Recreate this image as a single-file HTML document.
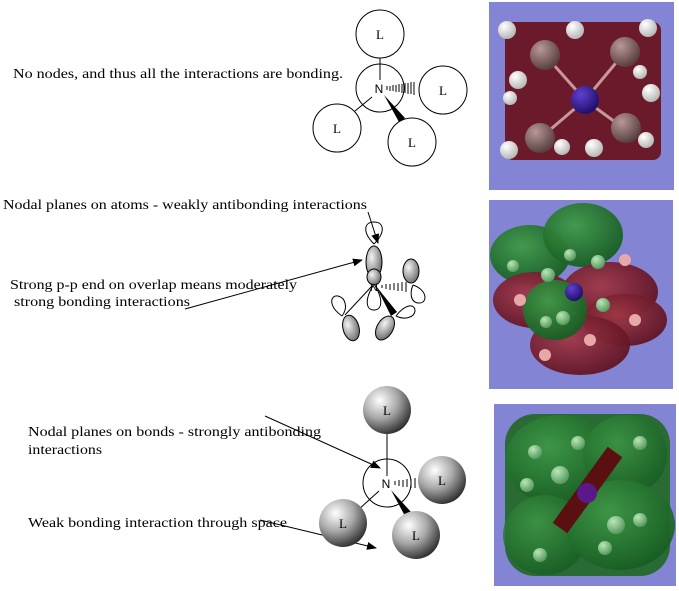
<!DOCTYPE html>
<html><head><meta charset="utf-8"><style>
html,body{margin:0;padding:0;background:#fff;}
svg{display:block;font-family:"Liberation Serif",serif;}
</style></head><body>
<svg width="679" height="591" viewBox="0 0 679 591" xmlns="http://www.w3.org/2000/svg">
<defs>
<radialGradient id="ball" cx="0.35" cy="0.3" r="0.75">
<stop offset="0" stop-color="#ffffff"/><stop offset="0.5" stop-color="#a8a8a8"/><stop offset="1" stop-color="#2a2a2a"/>
</radialGradient>
<radialGradient id="lobe" cx="0.35" cy="0.35" r="0.8">
<stop offset="0" stop-color="#f4f4f4"/><stop offset="1" stop-color="#5a5a5a"/>
</radialGradient>
<radialGradient id="red" cx="0.4" cy="0.4" r="0.7"><stop offset="0" stop-color="#a03848"/><stop offset="1" stop-color="#5a1020"/></radialGradient>
<radialGradient id="grn" cx="0.4" cy="0.35" r="0.7"><stop offset="0" stop-color="#3f9a48"/><stop offset="1" stop-color="#155a20"/></radialGradient>
<radialGradient id="hball" cx="0.35" cy="0.3" r="0.7"><stop offset="0" stop-color="#fff"/><stop offset="1" stop-color="#b8b8b8"/></radialGradient>
<radialGradient id="cball" cx="0.35" cy="0.3" r="0.7"><stop offset="0" stop-color="#b89898"/><stop offset="1" stop-color="#5a4040"/></radialGradient>
<radialGradient id="gball" cx="0.35" cy="0.3" r="0.7"><stop offset="0" stop-color="#b8e8b8"/><stop offset="1" stop-color="#5a9a60"/></radialGradient>
<radialGradient id="nball" cx="0.35" cy="0.3" r="0.7"><stop offset="0" stop-color="#6040d0"/><stop offset="1" stop-color="#20106a"/></radialGradient>
<marker id="ah" markerWidth="10" markerHeight="8" refX="9" refY="4" orient="auto" markerUnits="userSpaceOnUse"><path d="M0,0 L10,4 L0,8 z" fill="#000"/></marker>
</defs>

<!-- Texts -->
<g font-size="14" fill="#000">
<text x="13" y="78" textLength="330" lengthAdjust="spacingAndGlyphs">No nodes, and thus all the interactions are bonding.</text>
<text x="3" y="209" textLength="364" lengthAdjust="spacingAndGlyphs">Nodal planes on atoms - weakly antibonding interactions</text>
<text x="10" y="289" textLength="287" lengthAdjust="spacingAndGlyphs">Strong p-p end on overlap means moderately</text>
<text x="14" y="306" textLength="176" lengthAdjust="spacingAndGlyphs">strong bonding interactions</text>
<text x="28" y="436" textLength="293" lengthAdjust="spacingAndGlyphs">Nodal planes on bonds - strongly antibonding</text>
<text x="28" y="454" textLength="74" lengthAdjust="spacingAndGlyphs">interactions</text>
<text x="28" y="527" textLength="259" lengthAdjust="spacingAndGlyphs">Weak bonding interaction through space</text>
</g>

<!-- Top diagram -->
<g stroke="#000" stroke-width="1" fill="none">
<line x1="380" y1="58" x2="380" y2="80"/>
<line x1="372" y1="97" x2="355" y2="111"/>
<circle cx="380" cy="34" r="24" fill="#fff"/>
<circle cx="380" cy="88" r="24"/>
<circle cx="443" cy="90" r="24"/>
<circle cx="337" cy="128" r="24"/>
<circle cx="412" cy="142" r="24"/>
</g>
<path d="M384,95 L399,122 L405,118 z" fill="#000"/>
<g stroke="#000" stroke-width="1">
<line x1="387" y1="86" x2="387" y2="90"/><line x1="390" y1="86" x2="390" y2="91"/><line x1="393" y1="85" x2="393" y2="91"/><line x1="396" y1="85" x2="396" y2="92"/><line x1="399" y1="84" x2="399" y2="92"/><line x1="402" y1="84" x2="402" y2="93"/><line x1="405" y1="83" x2="405" y2="93"/><line x1="408" y1="83" x2="408" y2="94"/><line x1="411" y1="82" x2="411" y2="94"/><line x1="414" y1="82" x2="414" y2="95"/>
</g>
<g font-size="13" text-anchor="middle">
<text x="380" y="39">L</text>
<text x="379" y="93" font-family="Liberation Sans,sans-serif" font-size="12">N</text>
<text x="443" y="95">L</text>
<text x="337" y="133">L</text>
<text x="412" y="147">L</text>
</g>

<!-- Middle diagram -->
<g stroke="#000" stroke-width="1">
<path d="M374,244 C362,232 364,222 374,222 C384,222 386,232 374,244" fill="#fff"/>
<ellipse cx="374" cy="262" rx="8" ry="16" fill="url(#lobe)"/>
<ellipse cx="374" cy="277" rx="7" ry="8" fill="url(#lobe)"/>
<path d="M374,284 C364,300 366,310 374,310 C382,310 384,300 374,284" fill="#fff"/>
<ellipse cx="411" cy="271" rx="8" ry="12" fill="url(#lobe)"/>
<path d="M413,285 C428,290 428,304 418,303 C410,302 410,292 413,285" fill="#fff"/>
<path d="M342,316 C328,306 330,295 338,296 C346,298 348,308 342,316" fill="#fff"/>
<ellipse cx="351" cy="328" rx="8" ry="13" transform="rotate(-15 351 328)" fill="url(#lobe)"/>
<path d="M396,316 C405,304 415,303 415,311 C414,318 404,320 396,316" fill="#fff"/>
<ellipse cx="385" cy="328" rx="8" ry="13" transform="rotate(30 385 328)" fill="url(#lobe)"/>
<line x1="372" y1="286" x2="345" y2="315"/>
</g>
<line x1="368" y1="212" x2="378" y2="243" stroke="#000" marker-end="url(#ah)"/>
<line x1="185" y1="309" x2="362" y2="260" stroke="#000" marker-end="url(#ah)"/>
<path d="M376,286 L391,316 L397,312 z" fill="#000"/>
<g stroke="#000"><line x1="382" y1="285" x2="382" y2="288"/><line x1="386" y1="284" x2="386" y2="289"/><line x1="390" y1="284" x2="390" y2="290"/><line x1="394" y1="283" x2="394" y2="290"/><line x1="398" y1="283" x2="398" y2="291"/><line x1="402" y1="282" x2="402" y2="291"/><line x1="406" y1="282" x2="406" y2="292"/></g>
<text x="370" y="291" font-family="Liberation Sans,sans-serif" font-size="11">N</text>

<!-- Bottom diagram -->
<line x1="265" y1="416" x2="380" y2="468" stroke="#000" marker-end="url(#ah)"/>
<line x1="260" y1="520" x2="376" y2="548" stroke="#000" marker-end="url(#ah)"/>
<g stroke="#000" stroke-width="1" fill="none">
<circle cx="387" cy="483" r="24"/>
<line x1="387" y1="434" x2="387" y2="476"/>
<line x1="379" y1="491" x2="358" y2="510"/>
</g>
<path d="M391,490 L405,516 L411,512 z" fill="#000"/>
<g stroke="#000"><line x1="395" y1="481" x2="395" y2="485"/><line x1="399" y1="480" x2="399" y2="486"/><line x1="403" y1="480" x2="403" y2="487"/><line x1="407" y1="479" x2="407" y2="487"/><line x1="411" y1="479" x2="411" y2="488"/><line x1="415" y1="478" x2="415" y2="488"/></g>
<circle cx="387" cy="410" r="24" fill="url(#ball)"/>
<circle cx="442" cy="480" r="24" fill="url(#ball)"/>
<circle cx="343" cy="523" r="24" fill="url(#ball)"/>
<circle cx="416" cy="535" r="24" fill="url(#ball)"/>
<g font-size="13" text-anchor="middle">
<text x="387" y="415">L</text>
<text x="386" y="488" font-family="Liberation Sans,sans-serif" font-size="12">N</text>
<text x="442" y="485">L</text>
<text x="343" y="528">L</text>
<text x="416" y="540">L</text>
</g>

<!-- Image 1 -->
<rect x="489" y="2" width="185" height="188" fill="#8484d4"/>
<rect x="505" y="22" width="156" height="138" rx="8" fill="#6a1a2a"/>
<g stroke="#c89898" stroke-width="3">
<line x1="585" y1="100" x2="625" y2="52"/><line x1="585" y1="100" x2="538" y2="140"/><line x1="585" y1="100" x2="626" y2="130"/><line x1="585" y1="100" x2="545" y2="55"/>
</g>
<circle cx="545" cy="55" r="15" fill="url(#cball)"/>
<circle cx="625" cy="52" r="15" fill="url(#cball)"/>
<circle cx="540" cy="138" r="15" fill="url(#cball)"/>
<circle cx="626" cy="128" r="15" fill="url(#cball)"/>
<circle cx="585" cy="100" r="14" fill="url(#nball)"/>
<g fill="url(#hball)">
<circle cx="507" cy="30" r="9"/><circle cx="575" cy="30" r="9"/><circle cx="648" cy="28" r="9"/><circle cx="518" cy="80" r="9"/><circle cx="651" cy="93" r="9"/><circle cx="509" cy="150" r="9"/><circle cx="594" cy="148" r="9"/><circle cx="562" cy="147" r="8"/><circle cx="646" cy="140" r="8"/><circle cx="510" cy="98" r="7"/><circle cx="640" cy="72" r="7"/>
</g>

<!-- Image 2 -->
<rect x="489" y="200" width="184" height="189" fill="#8484d4"/>
<ellipse cx="530" cy="255" rx="40" ry="30" fill="url(#grn)" opacity="0.95"/>
<ellipse cx="583" cy="235" rx="40" ry="32" fill="url(#grn)" opacity="0.95"/>
<ellipse cx="610" cy="292" rx="48" ry="30" fill="url(#red)" opacity="0.95"/>
<ellipse cx="535" cy="300" rx="42" ry="28" fill="url(#red)" opacity="0.95"/>
<ellipse cx="625" cy="320" rx="42" ry="26" fill="url(#red)" opacity="0.95"/>
<ellipse cx="580" cy="345" rx="50" ry="30" fill="url(#red)" opacity="0.95"/>
<ellipse cx="555" cy="310" rx="32" ry="30" fill="url(#grn)" opacity="0.95"/>
<circle cx="574" cy="292" r="9" fill="url(#nball)"/>
<g fill="url(#gball)"><circle cx="548" cy="275" r="7"/><circle cx="598" cy="262" r="7"/><circle cx="603" cy="305" r="7"/><circle cx="563" cy="318" r="7"/><circle cx="513" cy="266" r="6"/><circle cx="570" cy="255" r="6"/><circle cx="546" cy="322" r="6"/></g>
<g fill="#e8a8a8"><circle cx="625" cy="260" r="6"/><circle cx="635" cy="320" r="6"/><circle cx="590" cy="340" r="6"/><circle cx="545" cy="355" r="6"/><circle cx="520" cy="300" r="6"/></g>

<!-- Image 3 -->
<rect x="494" y="404" width="182" height="182" fill="#8484d4"/>
<rect x="505" y="414" width="165" height="162" rx="30" fill="#2a6a34"/>
<ellipse cx="560" cy="460" rx="55" ry="45" fill="url(#grn)" opacity="0.9"/>
<ellipse cx="625" cy="455" rx="42" ry="40" fill="url(#grn)" opacity="0.8"/>
<ellipse cx="545" cy="535" rx="42" ry="40" fill="url(#grn)" opacity="0.8"/>
<ellipse cx="620" cy="525" rx="55" ry="45" fill="url(#grn)" opacity="0.9"/>
<line x1="560" y1="528" x2="615" y2="452" stroke="#5a1010" stroke-width="18"/>
<circle cx="587" cy="493" r="10" fill="#5a1888"/>
<g fill="url(#gball)"><circle cx="560" cy="475" r="9"/><circle cx="616" cy="525" r="9"/><circle cx="527" cy="485" r="7"/><circle cx="578" cy="443" r="7"/><circle cx="640" cy="443" r="7"/><circle cx="640" cy="520" r="7"/><circle cx="605" cy="548" r="7"/><circle cx="540" cy="555" r="7"/><circle cx="535" cy="452" r="7"/></g>
</svg>
</body></html>
